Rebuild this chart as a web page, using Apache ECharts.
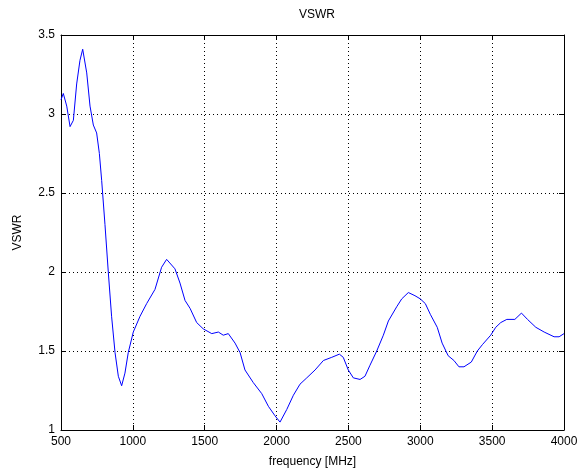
<!DOCTYPE html>
<html><head><meta charset="utf-8">
<script src="https://cdn.jsdelivr.net/npm/echarts@6/dist/echarts.min.js"></script>
<style>html,body{margin:0;padding:0;background:#fff}#c{width:582px;height:473px}</style>
</head><body><div id="c"></div>
<script>
var freq = [500,516,540,563,586,609,632,651,679,702,725,748,767,783,806,829,852,876,899,922,945,968,1003,1050,1096,1154,1200,1235,1293,1328,1363,1398,1444,1490,1549,1595,1629,1664,1711,1746,1780,1838,1897,1943,1989,2024,2071,2117,2163,2210,2268,2326,2384,2437,2464,2499,2534,2581,2615,2650,2697,2743,2778,2836,2871,2917,2963,3000,3035,3071,3118,3152,3194,3234,3269,3304,3355,3397,3432,3490,3525,3560,3602,3658,3704,3746,3804,3862,3931,3966,4000];
var vswr = [3.09,3.13,3.05,2.92,2.96,3.19,3.34,3.41,3.26,3.05,2.93,2.88,2.75,2.58,2.30,2.00,1.72,1.49,1.34,1.28,1.36,1.49,1.62,1.72,1.80,1.89,2.03,2.08,2.02,1.93,1.82,1.77,1.68,1.64,1.61,1.62,1.60,1.61,1.55,1.49,1.38,1.30,1.23,1.15,1.09,1.05,1.13,1.22,1.29,1.33,1.38,1.44,1.46,1.48,1.46,1.38,1.33,1.32,1.34,1.41,1.50,1.60,1.69,1.78,1.83,1.87,1.85,1.83,1.80,1.73,1.65,1.55,1.47,1.44,1.40,1.40,1.43,1.50,1.54,1.60,1.65,1.68,1.70,1.70,1.74,1.70,1.65,1.62,1.59,1.59,1.61];
var xTicks = [500,1000,1500,2000,2500,3000,3500,4000];
var yTicks = [1,1.5,2,2.5,3,3.5];
var titleText = 'VSWR';
var xName = 'frequency [MHz]';
var yName = 'VSWR';

var data = freq.map(function(f,i){return [f, vswr[i]];});
var font = 'Liberation Sans, Arial, sans-serif';
var axisLine = {show:true, lineStyle:{color:'#000', width:1}};
var tick = {show:true, inside:true, length:5, lineStyle:{color:'#000'}};
var grid = {show:true, lineStyle:{color:'#000', type:[1,3], width:1}};
var chart = echarts.init(document.getElementById('c'));
chart.setOption({
  animation:false,
  backgroundColor:'#fff',
  title:{text:titleText, left:312, top:4, textAlign:'center', textStyle:{fontFamily:font, fontSize:12, fontWeight:'normal', color:'#000'}},
  grid:{left:61, right:18, top:35, bottom:42, containLabel:false},
  xAxis:[
    {type:'value', min:500, max:4000, interval:500, axisLine:axisLine, axisTick:tick, splitLine:grid,
     axisLabel:{fontFamily:font, fontSize:12, color:'#000', margin:6, formatter:function(v){return String(v);}},
     name:xName, nameLocation:'middle', nameGap:26, nameTextStyle:{fontFamily:font, fontSize:12, color:'#000'}},
    {type:'value', position:'top', min:500, max:4000, interval:500, axisLine:axisLine, axisTick:tick, splitLine:{show:false}, axisLabel:{show:false}}
  ],
  yAxis:[
    {type:'value', min:1, max:3.5, interval:0.5, axisLine:axisLine, axisTick:tick, splitLine:grid,
     axisLabel:{fontFamily:font, fontSize:12, color:'#000', margin:6, formatter:function(v){return String(v);}},
     name:yName, nameLocation:'middle', nameGap:37, nameRotate:90, nameTextStyle:{fontFamily:font, fontSize:12, color:'#000'}},
    {type:'value', position:'right', min:1, max:3.5, interval:0.5, axisLine:axisLine, axisTick:tick, splitLine:{show:false}, axisLabel:{show:false}}
  ],
  series:[{type:'line', data:data, showSymbol:false, smooth:false, lineStyle:{color:'#0000ff', width:1}, itemStyle:{color:'#0000ff'}}]
});
</script></body></html>
